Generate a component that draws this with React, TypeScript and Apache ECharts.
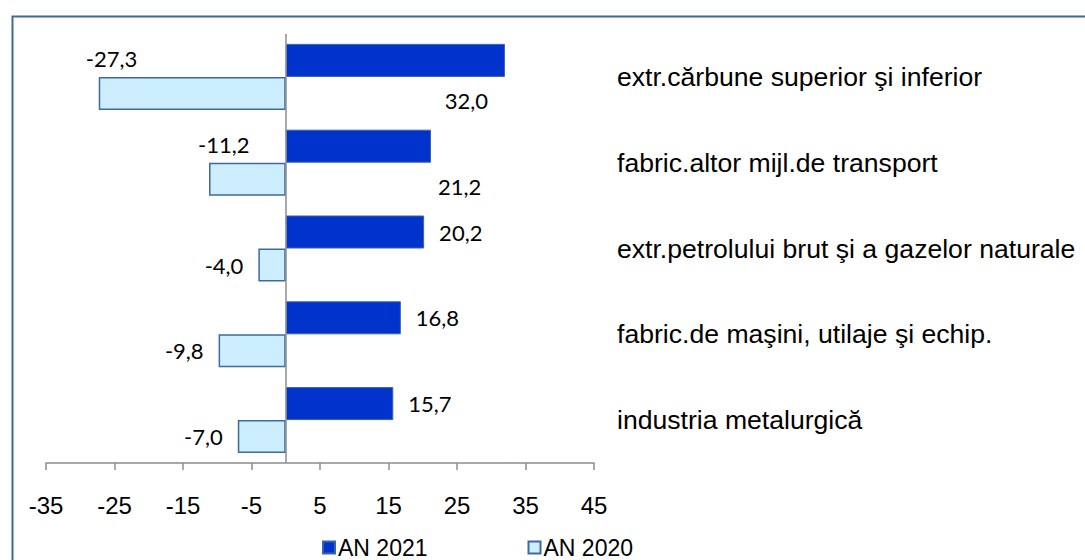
import React, { useEffect, useRef } from "react";
import * as echarts from "echarts";

const categories = [
  "extr.cărbune superior şi inferior",
  "fabric.altor mijl.de transport",
  "extr.petrolului brut şi a gazelor naturale",
  "fabric.de maşini, utilaje şi echip.",
  "industria metalurgică",
];
const seriesNames = ["AN 2021", "AN 2020"];
const an2021 = [32.0, 21.2, 20.2, 16.8, 15.7];
const an2020 = [-27.3, -11.2, -4.0, -9.8, -7.0];
const xTickMin = -35;
const xTickMax = 45;
const xTickStep = 10;

const fmt = (v: number) => v.toFixed(1).replace(".", ",");

const DATA_FONT = "Lato, 'Open Sans', sans-serif";
const AXIS_FONT = "'Liberation Sans', Arial, sans-serif";

// label placement styles per item (as in the reference)
const darkLabelStyles: any[] = [
  { position: ["100%", "100%"], align: "right", verticalAlign: "top", offset: [-17, 13] },
  { position: ["100%", "100%"], align: "left", verticalAlign: "top", offset: [7, 13] },
  { position: "right", distance: 15 },
  { position: "right", distance: 15 },
  { position: "right", distance: 15 },
];
const lightLabelStyles: any[] = [
  { position: [0, 0], align: "left", verticalAlign: "bottom", offset: [-13, -7] },
  { position: [0, 0], align: "left", verticalAlign: "bottom", offset: [-11, -7] },
  { position: "left", distance: 15 },
  { position: "left", distance: 15 },
  { position: "left", distance: 15 },
];

export default function App() {
  const ref = useRef<HTMLDivElement>(null);
  useEffect(() => {
    document.body.style.margin = "0";
    if (!ref.current) return;
    const chart = echarts.init(ref.current, null, { renderer: "svg" });
    const labelBase = {
      show: true,
      color: "#000",
      fontSize: 22,
      fontFamily: DATA_FONT,
      formatter: (p: any) => fmt(p.value),
    };
    chart.setOption({
      animation: false,
      backgroundColor: "#fff",
      grid: { left: 46, right: 491, top: 34, bottom: 97, containLabel: false },
      legend: {
        left: 317,
        top: 531,
        itemWidth: 12,
        itemHeight: 12,
        itemGap: 100,
        icon: "rect",
        textStyle: { fontSize: 23, fontFamily: AXIS_FONT, color: "#000", padding: [0, 0, 0, -2] },
        data: seriesNames,
      },
      xAxis: {
        type: "value",
        min: xTickMin,
        max: xTickMax,
        interval: xTickStep,
        axisLine: { show: true, onZero: false, lineStyle: { color: "#8c8c8c", width: 1.5 } },
        axisTick: { show: true, inside: false, length: 7, lineStyle: { color: "#8c8c8c", width: 1.5 } },
        axisLabel: { fontSize: 24, fontFamily: AXIS_FONT, color: "#000", margin: 30 },
        splitLine: { show: false },
      },
      yAxis: {
        type: "category",
        inverse: true,
        position: "right",
        data: categories,
        axisLine: { show: false },
        axisTick: { show: false },
        axisLabel: { fontSize: 26.6, fontFamily: AXIS_FONT, color: "#000", margin: 23, align: "left" },
      },
      series: [
        {
          name: seriesNames[0],
          type: "bar",
          barWidth: 33,
          barGap: "0%",
          itemStyle: { color: "#0033cc", borderColor: "#3d62a5", borderWidth: 1 },
          data: an2021.map((v, i) => ({ value: v, label: { ...labelBase, ...darkLabelStyles[i] } })),
          markLine: {
            silent: true,
            symbol: ["none", "none"],
            label: { show: false },
            lineStyle: { color: "#8c8c8c", width: 1.5, type: "solid" },
            data: [{ xAxis: 0 }],
          },
        },
        {
          name: seriesNames[1],
          type: "bar",
          barWidth: 33,
          barGap: "0%",
          itemStyle: { color: "#cceeff", borderColor: "#3f6a9f", borderWidth: 1.5 },
          data: an2020.map((v, i) => ({ value: v, label: { ...labelBase, ...lightLabelStyles[i] } })),
        },
      ],
      graphic: [
        {
          type: "rect",
          left: 10,
          top: 14,
          shape: { x: 0, y: 0, width: 1100, height: 600 },
          style: { fill: "none", stroke: "#41699c", lineWidth: 2 },
          silent: true,
          z: 100,
        },
      ],
    });
    return () => chart.dispose();
  }, []);
  return <div ref={ref} style={{ width: 1085, height: 560 }} />;
}
